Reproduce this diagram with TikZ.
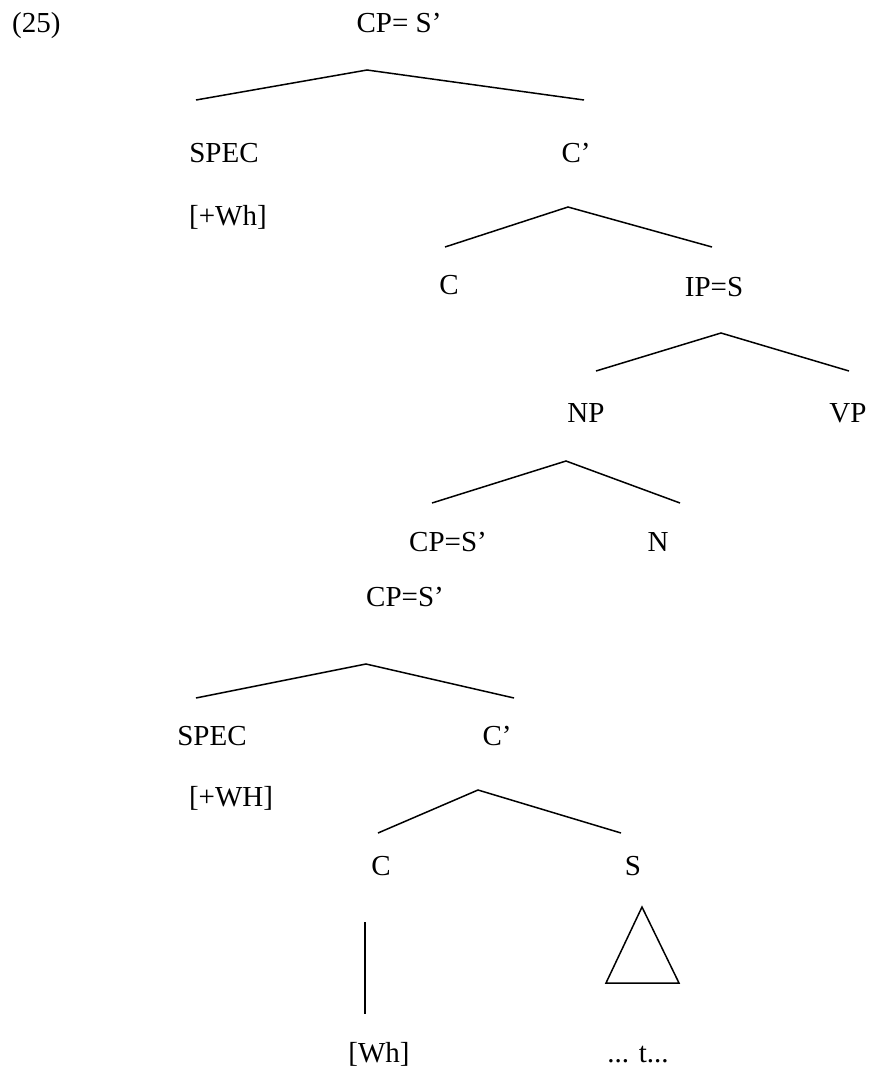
\documentclass[tikz,border=0pt]{standalone}
\usepackage{fontspec}
\setmainfont{Liberation Serif}
\begin{document}
\begin{tikzpicture}[x=1pt,y=-1pt,
  lbl/.style={anchor=base,inner sep=0pt,font=\fontsize{29}{34}\selectfont},
  branch/.style={line width=1.5pt,line join=miter}]
\useasboundingbox (0,0) rectangle (871,1072);

% example number
\node[lbl,anchor=base west] (num) at (12,32) {(25)};

% ---- upper tree ----
\node[lbl] (cp1)   at (399,32)  {CP= S’};
\node[lbl] (spec1) at (224,162) {SPEC};
\node[lbl] (cbar1) at (576,162) {C’};
\node[lbl] (wh1)   at (228,225) {[+Wh]};
\node[lbl] (c1)    at (449,294) {C};
\node[lbl] (ip)    at (714,296) {IP=S};
\node[lbl] (np)    at (586,422) {NP};
\node[lbl] (vp)    at (848,422) {VP};
\node[lbl] (cp2)   at (448,551) {CP=S’};
\node[lbl] (n)     at (658,551) {N};

\coordinate (a1) at (367,70);  \coordinate (a1l) at (196,100); \coordinate (a1r) at (584,100);
\coordinate (a2) at (568,207); \coordinate (a2l) at (445,247); \coordinate (a2r) at (712,247);
\coordinate (a3) at (721,333); \coordinate (a3l) at (596,371); \coordinate (a3r) at (849,371);
\coordinate (a4) at (566,461); \coordinate (a4l) at (432,503); \coordinate (a4r) at (680,503);

\draw[branch] (a1l) -- (a1) -- (a1r);
\draw[branch] (a2l) -- (a2) -- (a2r);
\draw[branch] (a3l) -- (a3) -- (a3r);
\draw[branch] (a4l) -- (a4) -- (a4r);

% ---- lower tree ----
\node[lbl] (cp3)   at (405,606) {CP=S’};
\node[lbl] (spec2) at (212,745) {SPEC};
\node[lbl] (cbar2) at (497,745) {C’};
\node[lbl] (wh2)   at (231,806) {[+WH]};
\node[lbl] (c2)    at (381,875) {C};
\node[lbl] (s)     at (633,875) {S};
\node[lbl] (whc)   at (379,1062) {[Wh]};
\node[lbl] (trace) at (638,1062) {... t...};

\coordinate (a5) at (366,664); \coordinate (a5l) at (196,698); \coordinate (a5r) at (514,698);
\coordinate (a6) at (478,790); \coordinate (a6l) at (378,833); \coordinate (a6r) at (621,833);

\draw[branch] (a5l) -- (a5) -- (a5r);
\draw[branch] (a6l) -- (a6) -- (a6r);

% C dominates [Wh]
\coordinate (vt) at (365,922); \coordinate (vb) at (365,1014);
\draw[branch] (vt) -- (vb);

% S abbreviated by a triangle
\coordinate (tt) at (642,907); \coordinate (tl) at (606,983); \coordinate (tr) at (679,983);
\draw[branch] (tt) -- (tl) -- (tr) -- cycle;
\end{tikzpicture}
\end{document}
